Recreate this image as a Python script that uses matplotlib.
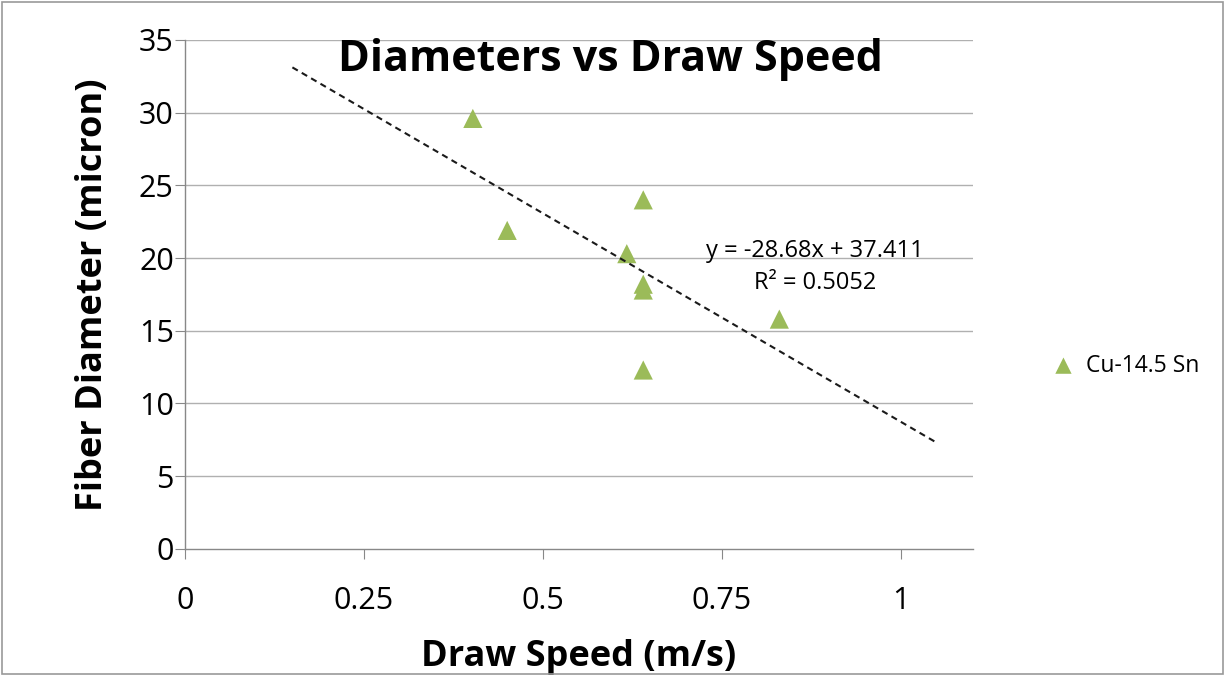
import matplotlib
matplotlib.use("Agg")
import matplotlib.pyplot as plt
from matplotlib.patches import Rectangle
import numpy as np

plt.rcParams['font.family'] = ['Open Sans', 'DejaVu Sans']

# data
draw_speed = [0.402, 0.450, 0.617, 0.640, 0.640, 0.640, 0.640, 0.830]
diameter = [29.6, 21.9, 20.3, 24.0, 18.2, 17.8, 12.3, 15.8]
slope = -28.68
intercept = 37.411
r_squared = 0.5052
trend_range = [0.15, 1.05]

xticks = [0, 0.25, 0.5, 0.75, 1]
xtick_labels = ['0', '0.25', '0.5', '0.75', '1']
yticks = [0, 5, 10, 15, 20, 25, 30, 35]

green = '#9bbb59'

fig = plt.figure(figsize=(12.25, 6.76), dpi=100)
ax = fig.add_axes([0.151, 0.188, 0.643, 0.753])

for y in yticks[1:]:
    ax.axhline(y, color='#b0b0b0', lw=1, zorder=0)

ax.scatter(draw_speed, diameter, marker='^', s=190, color=green, zorder=3,
           label='Cu-14.5 Sn', edgecolors='none')

tx = np.array(trend_range)
ax.plot(tx, slope * tx + intercept, ls=(0, (3, 2.2)), color='#1a1a1a', lw=1.5, zorder=4)

ax.text(0.88, 20.5, 'y = -28.68x + 37.411', ha='center', va='center', fontsize=17)
ax.text(0.88, 18.3, 'R² = %.4f' % r_squared, ha='center', va='center', fontsize=17)

ax.set_xlim(0, 1.1)
ax.set_ylim(0, 35)
ax.set_xticks(xticks)
ax.set_xticklabels(xtick_labels)
ax.set_yticks(yticks)
ax.tick_params(axis='both', labelsize=22, length=7, color='#888888', direction='out')
ax.tick_params(axis='x', pad=20)
ax.tick_params(axis='y', pad=1)

for s in ['top', 'right']:
    ax.spines[s].set_visible(False)
for s in ['left', 'bottom']:
    ax.spines[s].set_color('#888888')
    ax.spines[s].set_linewidth(1)

ax.set_xlabel('Draw Speed (m/s)', fontsize=26, fontweight='bold', labelpad=16)
ax.set_ylabel('Fiber Diameter (micron)', fontsize=26, fontweight='bold', labelpad=20)

fig.text(0.498, 0.912, 'Diameters vs Draw Speed', ha='center', va='center',
         fontsize=31, fontweight='bold')

ax.legend(loc='center left', bbox_to_anchor=(1.06, 0.36), frameon=False,
          fontsize=16.5, handletextpad=0.0, markerscale=0.85)

fig.patches.append(Rectangle((0.002, 0.003), 0.996, 0.994, transform=fig.transFigure,
                             fill=False, edgecolor='#999999', lw=1.2))

fig.savefig('out.png', dpi=100)
